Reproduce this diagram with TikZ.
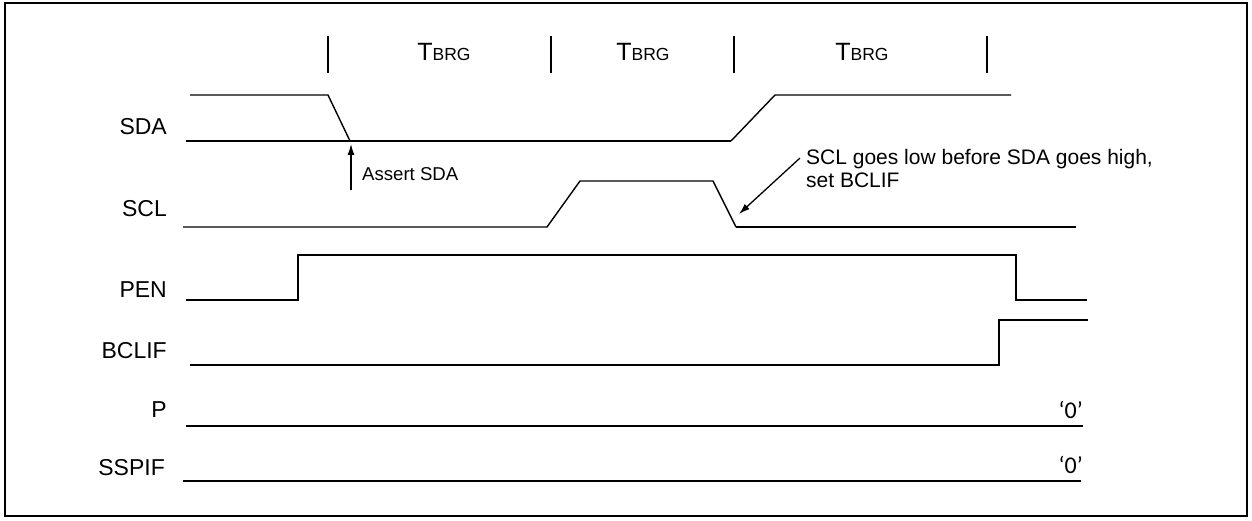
\documentclass[tikz,border=0pt]{standalone}
\usepackage{fontspec}
\setmainfont{Liberation Sans}
\newfontfamily\zerofont{Carlito}
\usetikzlibrary{arrows.meta}
\begin{document}
\begin{tikzpicture}[x=1pt,y=-1pt,
  lbl/.style={anchor=base east,inner sep=0pt,font=\fontsize{23}{27}\selectfont},
  txt/.style={anchor=base west,inner sep=0pt,font=\fontsize{21}{26}\selectfont},
  tb/.style={anchor=base,inner sep=0pt},
  zero/.style={anchor=base east,inner sep=0pt,font=\zerofont\fontsize{24}{28}\selectfont},
  sig/.style={line width=2pt,line join=miter},
  thin/.style={line width=1.4pt,line join=miter},
  tick/.style={line width=2pt},
  arr/.style={line width=1.3pt,-{Latex[length=11pt,width=7pt]}}]
\useasboundingbox (0,0) rectangle (1252,521);
\draw[line width=2.6pt] (5,3) rectangle (1247,516);
% TBRG ticks
\foreach \n/\x in {t1/328,t2/551,t3/734,t4/987}{
  \coordinate (\n a) at (\x,36); \coordinate (\n b) at (\x,73);
  \draw[tick] (\n a) -- (\n b);}
\newcommand{\tbrg}{{\fontsize{25}{28}\selectfont T}{\fontsize{17.5}{26}\selectfont BRG}}
\node[tb] (tb1) at (444,61) {\tbrg};
\node[tb] (tb2) at (643,61) {\tbrg};
\node[tb] (tb3) at (862,61) {\tbrg};
% labels
\node[lbl] (lsda) at (167,135) {SDA};
\node[lbl] (lscl) at (167,217) {SCL};
\node[lbl] (lpen) at (167,297) {PEN};
\node[lbl] (lbclif) at (167,358) {BCLIF};
\node[lbl] (lp) at (167,417) {P};
\node[lbl] (lsspif) at (165,475) {SSPIF};
% SDA
\draw[thin] (190,95) -- (328,95) -- (350,141);
\draw[sig] (186,141) -- (731,141);
\draw[thin] (731,141) -- (775,95) -- (1011,95);
% SCL
\draw[thin] (183,227) -- (547,227) -- (580,181) -- (713,181) -- (736,227);
\draw[sig] (736,227) -- (1076,227);
% PEN
\draw[sig] (186,300) -- (298,300) -- (298,255) -- (1016,255) -- (1016,300) -- (1087,300);
% BCLIF
\draw[sig] (190,365) -- (999,365) -- (999,320) -- (1088,320);
% P, SSPIF
\draw[sig] (186,426) -- (1083,426);
\draw[sig] (183,481) -- (1081,481);
\node[zero] (z1) at (1083,418) {‘0’};
\node[zero] (z2) at (1083,473) {‘0’};
% Assert SDA
\coordinate (asA) at (351,190);
\coordinate (asB) at (351,144);
\draw[arr] (asA) -- (asB);
\node[txt,font=\fontsize{18.6}{22}\selectfont] (assert) at (362,181) {Assert SDA};
% SCL annotation
\node[txt,align=left,anchor=north west] (note) at (806,149) {SCL goes low before SDA goes high,\\[-3pt]set BCLIF};
\coordinate (nA) at (800,158);
\coordinate (nB) at (739,214);
\draw[arr] (nA) -- (nB);
\end{tikzpicture}
\end{document}
